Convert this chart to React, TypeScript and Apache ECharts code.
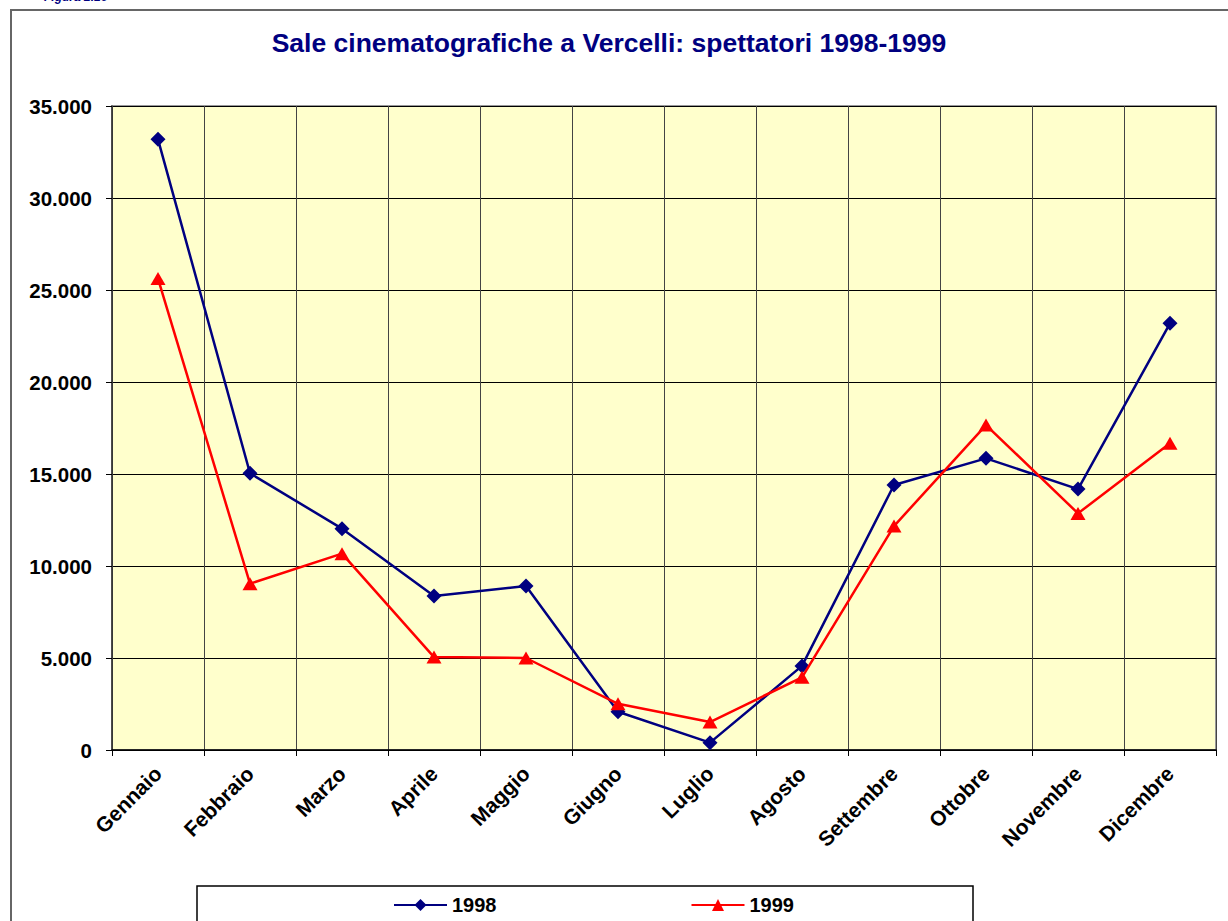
import React, { useEffect, useRef } from "react";
import * as echarts from "echarts";

const months = [
  "Gennaio", "Febbraio", "Marzo", "Aprile", "Maggio", "Giugno",
  "Luglio", "Agosto", "Settembre", "Ottobre", "Novembre", "Dicembre",
];
const spettatori1998 = [33190, 15040, 12030, 8370, 8910, 2080, 400, 4570, 14400, 15850, 14180, 23190];
const spettatori1999 = [25620, 9040, 10670, 5050, 5000, 2510, 1520, 3950, 12170, 17660, 12860, 16670];
const titleText = "Sale cinematografiche a Vercelli: spettatori 1998-1999";
const figureText = "Figura 2.16";

const FONT = 'Arial, "Liberation Sans", sans-serif';

function fmt(v: number): string {
  return String(v).replace(/\B(?=(\d{3})+(?!\d))/g, ".");
}

export default function App() {
  const ref = useRef<HTMLDivElement>(null);
  useEffect(() => {
    document.body.style.margin = "0";
    const chart = echarts.init(ref.current!, null, { renderer: "svg" });
    chart.setOption({
      animation: false,
      backgroundColor: "#ffffff",
      graphic: [
        {
          type: "rect",
          z: 0,
          shape: { x: 11, y: 10, width: 1260, height: 960 },
          style: { fill: "none", stroke: "#666666", lineWidth: 2 },
        },
        {
          type: "text",
          z: 1,
          x: 44,
          y: -9,
          style: { text: figureText, font: `italic bold 12px ${FONT}`, fill: "#000080" },
        },
        {
          type: "text",
          z: 1,
          x: 609,
          y: 43,
          style: {
            text: titleText,
            font: `bold 26.5px ${FONT}`,
            fill: "#000080",
            textAlign: "center",
            textVerticalAlign: "middle",
          },
        },
        {
          type: "rect",
          z: 1,
          shape: { x: 197, y: 886, width: 776, height: 60 },
          style: { fill: "#ffffff", stroke: "#000000", lineWidth: 1.5 },
        },
      ],
      legend: {
        z: 10,
        left: 388,
        top: 890,
        padding: 5,
        itemWidth: 53,
        itemHeight: 15,
        itemGap: 194,
        textStyle: { fontFamily: FONT, fontWeight: "bold", fontSize: 20, color: "#000" },
        data: ["1998", "1999"],
      },
      grid: {
        left: 112,
        top: 106,
        right: 12,
        bottom: 171,
        show: true,
        backgroundColor: "#FFFFCC",
        borderColor: "#999999",
        borderWidth: 2,
      },
      xAxis: {
        type: "category",
        data: months,
        boundaryGap: true,
        axisLine: { lineStyle: { color: "#000", width: 1.5 } },
        axisTick: { show: true, length: 6, interval: 0, lineStyle: { color: "#000" } },
        splitLine: { show: true, interval: 0, lineStyle: { color: "#444", width: 1 } },
        axisLabel: {
          interval: 0,
          rotate: 45,
          margin: 20,
          fontFamily: FONT,
          fontWeight: "bold",
          fontSize: 21,
          color: "#000",
        },
      },
      yAxis: {
        type: "value",
        min: 0,
        max: 35000,
        interval: 5000,
        axisLine: { show: true, lineStyle: { color: "#333", width: 1.5 } },
        axisTick: { show: true, length: 6, lineStyle: { color: "#000" } },
        splitLine: { show: true, lineStyle: { color: "#000", width: 1 } },
        axisLabel: {
          margin: 20,
          formatter: (v: number) => fmt(v),
          fontFamily: FONT,
          fontWeight: "bold",
          fontSize: 20.5,
          color: "#000",
        },
      },
      series: [
        {
          name: "1998",
          type: "line",
          data: spettatori1998,
          symbol: "diamond",
          symbolSize: 15,
          lineStyle: { color: "#000080", width: 2.5 },
          itemStyle: { color: "#000080" },
          z: 3,
        },
        {
          name: "1999",
          type: "line",
          data: spettatori1999,
          symbol: "triangle",
          symbolSize: [15, 13],
          lineStyle: { color: "#FF0000", width: 2.5 },
          itemStyle: { color: "#FF0000" },
          z: 4,
        },
      ],
    });
    return () => chart.dispose();
  }, []);
  return (
    <div
      ref={ref}
      style={{ position: "absolute", left: 0, top: 0, width: 1228, height: 921 }}
    />
  );
}
